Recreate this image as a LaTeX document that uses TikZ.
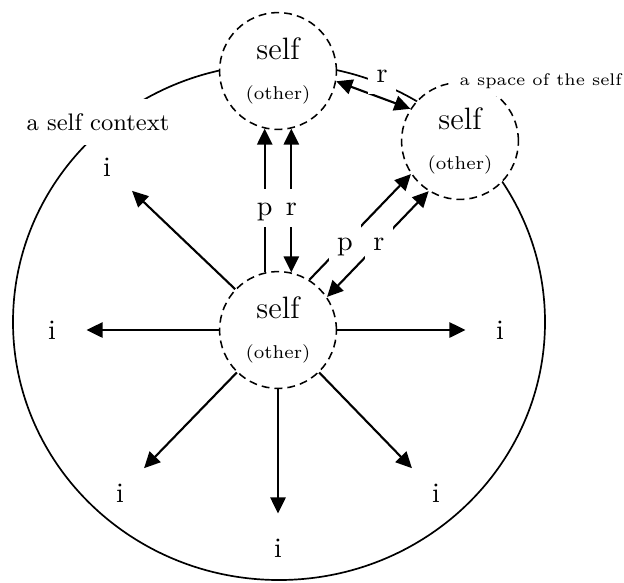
\documentclass[tikz,border=0pt]{standalone}
\usetikzlibrary{arrows.meta}
\begin{document}
\begin{tikzpicture}[
  font=\fontsize{10}{12}\selectfont,
  >={Triangle[length=0.2cm, width=0.19cm]},
  selfnode/.style={
    circle, draw, dash pattern=on 2.8pt off 1.8pt, line width=0.55pt,
    fill=white, minimum size=1.46cm, inner sep=0pt, align=center,
    font=\fontsize{11}{14}\selectfont
  },
  inode/.style   ={circle, minimum size=0.85cm, inner sep=0pt},
  arrow/.style   ={->, line width=0.75pt},
  lbl/.style     ={fill=white, inner sep=3pt, text height=1.5ex, text depth=0.25ex},
  ctxlabel/.style={fill=white, inner sep=5pt},
  ctx/.style     ={line width=0.6pt}
]
\useasboundingbox (0,0) rectangle (7.8,-7.275);

% Context
\draw[ctx] (3.4875,-4.025) ellipse [x radius=3.325, y radius=3.225];

% Selves
\node[selfnode] (c) at (3.475,-4.125)  {self\\{\fontsize{6.6}{8}\selectfont (other)}};
\node[selfnode] (t) at (3.475,-0.8875) {self\\{\fontsize{6.6}{8}\selectfont (other)}};
\node[selfnode] (s) at (5.75,-1.7625)  {self\\{\fontsize{6.6}{8}\selectfont (other)}};

% Interactions
\node[inode] (iL)  at (0.65,-4.125)    {i};
\node[inode] (iR)  at (6.25,-4.125)    {i};
\node[inode] (iD)  at (3.475,-6.85)    {i};
\node[inode] (iDL) at (1.5,-6.1625)    {i};
\node[inode] (iDR) at (5.45,-6.1625)   {i};
\node[inode] (iUL) at (1.3375,-2.0875) {i};

\draw[arrow] (c) -- (iL);
\draw[arrow] (c) -- (iR);
\draw[arrow] (c) -- (iD);
\draw[arrow] (c) -- (iDL);
\draw[arrow] (c) -- (iDR);
\draw[arrow] (c) -- (iUL);

% p / r links
\draw[arrow]      (c.103) -- node[lbl, pos=0.45] {p} (t.257);
\draw[arrow, <->] (c.77)  -- node[lbl, pos=0.45] {r} (t.283);
\draw[arrow]      (c.58)  -- node[lbl, pos=0.35] {p} (s.214);
\draw[arrow, <->] (c.34)  -- node[lbl, pos=0.51] {r} (s.238);
\draw[arrow, <->] (t.-10) -- node[lbl, above, pos=0.62, yshift=1pt] {r} (s.147);

% Context labels
\node[ctxlabel, font=\fontsize{8.5}{10}\selectfont] (ctxname) at (1.225,-1.525) {a self context};
\node[ctxlabel, inner sep=2.5pt, font=\fontsize{6}{7}\selectfont] (spacename) at (6.76,-1.0125) {a space of the self};

\end{tikzpicture}
\end{document}
